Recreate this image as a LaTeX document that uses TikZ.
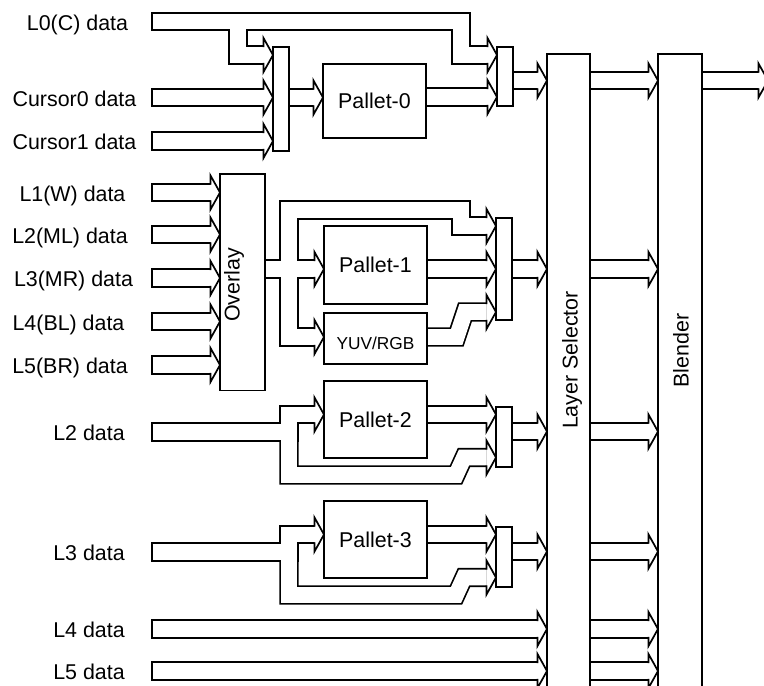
\documentclass[tikz,border=0pt]{standalone}
\usepackage{fontspec}
\setmainfont{Liberation Sans}

\pgfdeclarelayer{busback}
\pgfdeclarelayer{busfill}
\pgfsetlayers{busback,busfill,main}

\tikzset{
  box/.style={draw, line width=1.7pt, outer sep=0pt, inner sep=0pt,
    font=\fontsize{21.4}{25}\selectfont, text height=15.3pt, text depth=0pt},
  mux/.style={box, minimum width=16pt},
  pallet/.style={box, minimum width=103pt},
  lbl/.style={font=\fontsize{21.4}{25}\selectfont, inner sep=0pt,
    text height=15.3pt, text depth=0pt},
  side/.style={font=\fontsize{21.4}{25}\selectfont, inner sep=0pt, rotate=90},
  bus/.style={line width=19.2pt, line join=miter, shorten >=9.5pt},
  busfill/.style={line width=15.8pt, white, line join=miter, shorten >=9.5pt},
  tail/.style={shorten <=1.7pt},
  head/.pic={\filldraw[fill=white, line width=1.7pt, line join=miter, line cap=rect]
    (-9.5,8.75) -- (-9.5,17) -- (0,0) -- (-9.5,-17) -- (-9.5,-8.75);}
}

% hollow bus: path, then tip
\newcommand\drawbus[3][]{%
  \begin{pgfonlayer}{busback}\draw[bus] #2 -- #3;\end{pgfonlayer}%
  \begin{pgfonlayer}{busfill}\draw[busfill,#1] #2 -- #3;\end{pgfonlayer}%
  \pic at #3 {head};}

\begin{document}
\begin{tikzpicture}[x=1pt, y=-1pt]
  \useasboundingbox (0,0) rectangle (764,686);
  \clip (0,0) rectangle (764,686);

  % blocks
  \node[mux, minimum height=104pt] (mux0) at (281,99) {};
  \node[pallet, minimum height=74pt] (pal0) at (374.5,101) {Pallet-0};
  \node[mux, minimum height=59pt] (mux1) at (505,76.5) {};
  \node[box, minimum width=43pt, minimum height=700pt] (sel) at (568.5,404) {};
  \node[box, minimum width=44pt, minimum height=700pt] (blend) at (680,404) {};
  \node[side] (selName) at (572,360) {Layer Selector};
  \node[side] (blendName) at (681,350.5) {Blender};
  \node[box, minimum width=45pt, minimum height=216.5pt] (over) at (242.5,282.3) {};
  \node[side] (overName) at (234,285) {Overlay};
  \node[pallet, minimum height=78pt] (pal1) at (375.5,265) {Pallet-1};
  \node[pallet, minimum height=51pt, font=\fontsize{17.3}{20}\selectfont,
    text height=21.4pt] (yuv) at (375.5,338.5) {YUV/RGB};
  \node[mux, minimum height=102pt] (mux2) at (504,269) {};
  \node[pallet, minimum height=77pt] (pal2) at (375.5,419.5) {Pallet-2};
  \node[mux, minimum height=60pt] (mux3) at (504,437) {};
  \node[pallet, minimum height=77pt] (pal3) at (375.5,539.5) {Pallet-3};
  \node[mux, minimum height=60pt] (mux4) at (504,557) {};

  % inputs
  \foreach \n/\x/\y/\t in {
    l0/77.5/21.5/L0(C) data, cur0/74.5/97.5/Cursor0 data, cur1/74.5/141/Cursor1 data,
    l1/72.5/192.5/L1(W) data, l2m/70/234.5/L2(ML) data, l3m/73.5/278/L3(MR) data,
    l4b/68.5/321.5/L4(BL) data, l5b/70/365/L5(BR) data,
    l2/89/432/L2 data, l3/89/552/L3 data, l4/89/629/L4 data, l5/89/671/L5 data}{
    \node[lbl] (\n) at (\x,\y+1) {\t};
    \coordinate (\n-t) at (151,\y);
  }
  \coordinate (out) at (768,80.5);

  % cursor path
  \drawbus[tail]{(l0-t) -- (461,21.5) -- (461,55)}{(mux1.west |- 0,55)}
  \drawbus{(238,21.5) -- (238,55)}{(mux0.west |- 0,55)}
  \drawbus[tail]{(cur0-t)}{(mux0.west |- cur0-t)}
  \drawbus[tail]{(cur1-t)}{(mux0.west |- cur1-t)}
  \drawbus{(mux0.east |- 0,97.5)}{(pal0.west |- 0,97.5)}
  \drawbus{(pal0.east |- 0,97)}{(mux1.west |- 0,97)}
  \drawbus{(mux1.east |- 0,80.5)}{(sel.west |- 0,80.5)}

  % overlay path
  \foreach \n in {l1,l2m,l3m,l4b,l5b}{
    \drawbus[tail]{(\n-t)}{(over.west |- \n-t)}
  }
  \drawbus{(over.east |- 0,269)}{(pal1.west |- 0,269)}
  \drawbus{(289,269) -- (289,210) -- (461,210) -- (461,226)}{(mux2.west |- 0,226)}
  \drawbus{(289,269) -- (289,337)}{(yuv.west |- 0,337)}
  \drawbus{(pal1.east |- 0,269)}{(mux2.west |- 0,269)}
  \drawbus{(yuv.east |- 0,337) -- (456.7,337) -- (465,312)}{(mux2.west |- 0,312)}
  \drawbus{(mux2.east |- 0,269)}{(sel.west |- 0,269)}

  % L2 / L3 paths
  \foreach \n/\y/\p/\m in {l2/432/pal2/mux3, l3/552/pal3/mux4}{
    \drawbus[tail]{(\n-t) -- (289,\y) -- (289,\y-17.5)}{(\p.west |- 0,\y-17.5)}
    \drawbus{(289,\y) -- (289,\y+43) -- (456,\y+43) -- (464,\y+25.5)}{(\m.west |- 0,\y+25.5)}
    \drawbus{(\p.east |- 0,\y-17.5)}{(\m.west |- 0,\y-17.5)}
    \drawbus{(\m.east |- 0,\y-0.5)}{(sel.west |- 0,\y-0.5)}
  }
  \drawbus[tail]{(l4-t)}{(sel.west |- l4-t)}
  \drawbus[tail]{(l5-t)}{(sel.west |- l5-t)}

  % selector to blender
  \foreach \y in {80.5,269,431.5,551.5,629,671}{
    \drawbus{(sel.east |- 0,\y)}{(blend.west |- 0,\y)}
  }
  \drawbus{(blend.east |- out)}{(out)}
\end{tikzpicture}
\end{document}
